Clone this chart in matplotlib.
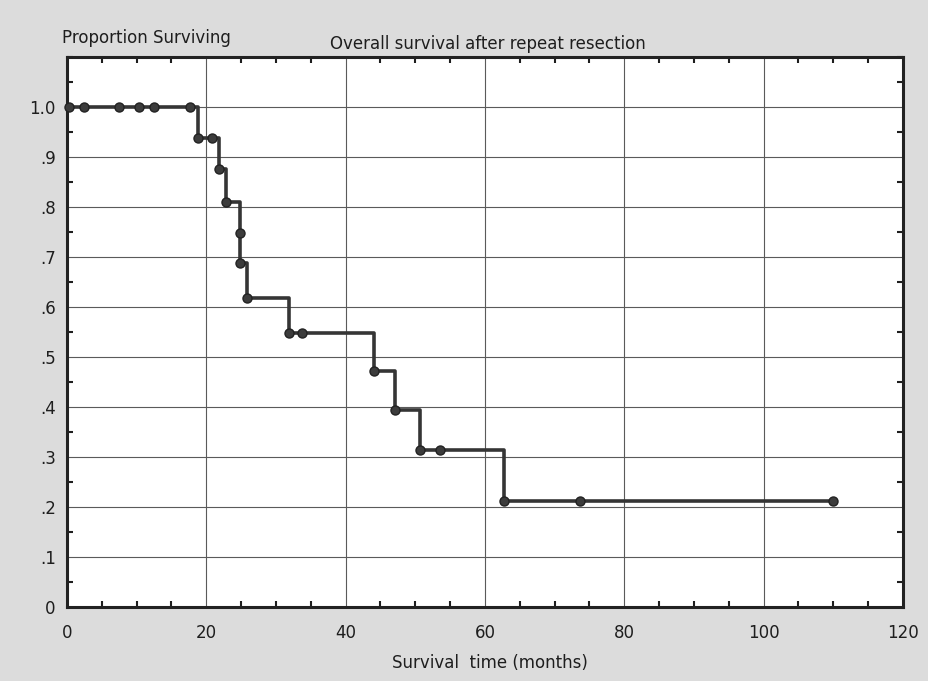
import numpy as np
import matplotlib
matplotlib.use("Agg")
from matplotlib import pyplot as plt
from matplotlib.ticker import MultipleLocator

# Kaplan-Meier steps
step_times = [0, 18.8, 21.8, 22.8, 24.8, 24.9, 25.9, 31.9, 44.0, 47.1, 50.7, 62.7]
step_surv = [1.0, 0.937, 0.875, 0.81, 0.747, 0.687, 0.617, 0.547, 0.471, 0.394, 0.314, 0.211]
last_time = 109.9

# censored observations
censor_times = [0.3, 2.4, 7.5, 10.3, 12.5, 17.6, 20.8, 33.8, 53.6, 73.6, 109.9]

x_ticks = [0, 20, 40, 60, 80, 100, 120]
y_ticks = [0, 0.1, 0.2, 0.3, 0.4, 0.5, 0.6, 0.7, 0.8, 0.9, 1.0]
y_labels = ["0", ".1", ".2", ".3", ".4", ".5", ".6", ".7", ".8", ".9", "1.0"]

line_col = "#353535"
txt_col = "#1e1e1e"

fig = plt.figure(figsize=(9.29, 6.81), dpi=100, facecolor="#dcdcdc")
ax = fig.add_axes([0.0721, 0.1087, 0.8999, 0.8076])
ax.set_facecolor("white")

# step curve
xs = np.array(step_times + [last_time])
ys = np.array(step_surv + [step_surv[-1]])
ax.step(xs, ys, where="post", color=line_col, lw=2.6, zorder=3)

# event markers at the step corners
ax.plot(step_times[1:], step_surv[1:], "o", ms=6.5, color="#3c3c3c",
        mec="#222222", mew=1, zorder=4)

# censored markers on the curve
idx = np.searchsorted(step_times, censor_times, side="right") - 1
c_surv = [step_surv[i] for i in idx]
ax.plot(censor_times, c_surv, "o", ms=6.5, color="#3c3c3c",
        mec="#222222", mew=1, zorder=4, clip_on=False)

ax.set_xlim(0, 120)
ax.set_ylim(0, 1.1)
ax.set_xticks(x_ticks)
ax.set_yticks(y_ticks)
ax.set_yticklabels(y_labels)
ax.xaxis.set_minor_locator(MultipleLocator(5))
ax.yaxis.set_minor_locator(MultipleLocator(0.05))
ax.tick_params(which="both", direction="in", top=True, right=True,
               labelsize=12, colors=txt_col, length=4, width=1.5)
ax.tick_params(axis="x", which="major", length=0, pad=12)
ax.tick_params(axis="y", which="major", length=0, pad=8)

ax.grid(True, which="major", color="#5a5a5a", lw=0.8)
ax.set_axisbelow(True)
for s in ax.spines.values():
    s.set_linewidth(2.2)
    s.set_color("#222222")

fig.text(62 / 929, 1 - 38 / 681, "Proportion Surviving", fontsize=12,
         va="center", ha="left", color=txt_col)
fig.text(488 / 929, 1 - 44 / 681, "Overall survival after repeat resection",
         fontsize=12, va="center", ha="center", color=txt_col)
fig.text(490 / 929, 1 - 663 / 681, "Survival  time (months)", fontsize=12,
         va="center", ha="center", color=txt_col)

plt.savefig("out.png", dpi=100, facecolor=fig.get_facecolor())
